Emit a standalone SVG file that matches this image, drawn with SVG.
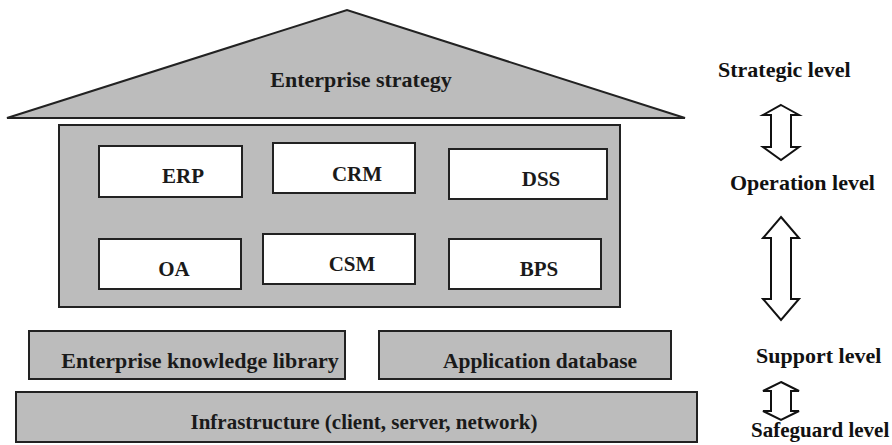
<svg xmlns="http://www.w3.org/2000/svg" width="892" height="445" viewBox="0 0 892 445">
<style>
.g{fill:#bcbcbc;stroke:#222;stroke-width:2}
.w{fill:#fff;stroke:#222;stroke-width:2}
.t{font-family:"Liberation Serif","Times New Roman",serif;font-weight:bold;fill:#1a1a1a;font-size:21px;text-anchor:middle}
.l{font-family:"Liberation Serif","Times New Roman",serif;font-weight:bold;fill:#111;font-size:22px}
.a{fill:#fff;stroke:#111;stroke-width:2;stroke-linejoin:miter}
</style>
<rect width="892" height="445" fill="#fff"/>
<g id="strategy">
<polygon class="g" points="7,118 347,10 685,118"/>
<text class="t" x="361" y="87" style="font-size:22px">Enterprise strategy</text>
</g>
<g id="operation">
<rect class="g" x="59" y="125" width="561" height="182"/>
</g>
<g id="erp"><rect class="w" x="99" y="146" width="143" height="51"/><text class="t" x="183" y="183">ERP</text></g>
<g id="crm"><rect class="w" x="273" y="143" width="142" height="50"/><text class="t" x="357" y="181">CRM</text></g>
<g id="dss"><rect class="w" x="449" y="149" width="158" height="50"/><text class="t" x="541" y="186">DSS</text></g>
<g id="oa"><rect class="w" x="99" y="239" width="142" height="50"/><text class="t" x="174" y="276">OA</text></g>
<g id="csm"><rect class="w" x="263" y="234" width="152" height="50"/><text class="t" x="352" y="271">CSM</text></g>
<g id="bps"><rect class="w" x="449" y="239" width="152" height="50"/><text class="t" x="539" y="276">BPS</text></g>
<g id="knowledge"><rect class="g" x="29" y="331" width="316" height="48"/><text class="t" x="200" y="368" style="font-size:22px">Enterprise knowledge library</text></g>
<g id="database"><rect class="g" x="379" y="331" width="292" height="48"/><text class="t" x="540" y="368" style="font-size:21.5px">Application database</text></g>
<g id="infrastructure"><rect class="g" x="16" y="392" width="681" height="50"/><text class="t" x="364" y="429">Infrastructure (client, server, network)</text></g>
<g id="levels">
<text class="l" x="718" y="77">Strategic level</text>
<text class="l" x="730" y="190">Operation level</text>
<text class="l" x="756" y="363">Support level</text>
<text class="l" x="751" y="437" style="font-size:21px">Safeguard level</text>
</g>
<g id="connectors">
<polygon class="a" points="781,105 799,115 791,115 791,147 799,147 781,160 763,147 771,147 771,115 763,115"/>
<polygon class="a" points="781,217 799,238 791,238 791,299 799,299 781,320 763,299 771,299 771,238 763,238"/>
<polygon class="a" points="781,382 799,391 791,391 791,411 799,411 781,420 763,411 771,411 771,391 763,391"/>
</g>
</svg>
